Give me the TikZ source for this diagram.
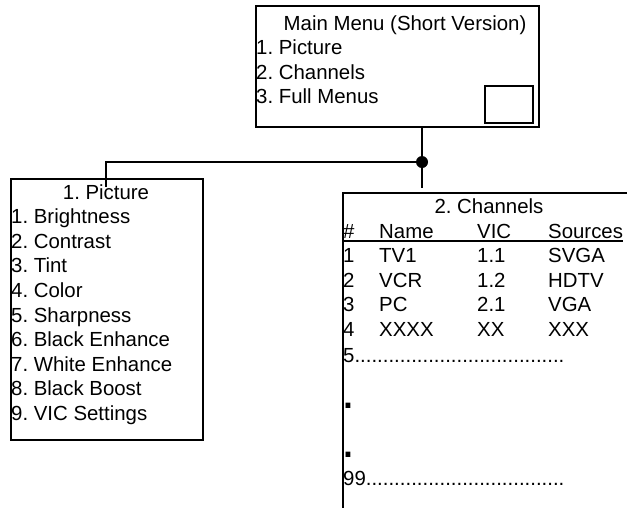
\documentclass[tikz,border=0pt]{standalone}
\usepackage{fontspec}
\setmainfont{Liberation Sans}
\frenchspacing
\begin{document}
\begin{tikzpicture}[x=1pt, y=-1pt,
    menubox/.style={draw=black, line width=1.8pt, rectangle, anchor=north west, inner sep=0pt},
    menutext/.style={anchor=base west, inner sep=0pt, font=\fontsize{20.4}{24.6}\selectfont},
    menutitle/.style={anchor=base, inner sep=0pt, font=\fontsize{20.4}{24.6}\selectfont},
    bigdot/.style={anchor=base west, inner sep=0pt, font=\fontsize{50}{50}\selectfont},
    link/.style={line width=1.8pt}]
    \useasboundingbox (0,0) rectangle (627,507);
    \clip (0,0) rectangle (627,507);

    % Main menu box with its small slot
    \node[menubox, minimum width=283pt, minimum height=121pt] (mainmenu) at (255,5) {};
    \node[menutitle] (maintitle) at (405,30) {Main Menu (Short Version)};
    \foreach \entry [count=\i] in {1. Picture, 2. Channels, 3. Full Menus}
        \node[menutext] (main-\i) at (256, 30+24.5*\i) {\entry};
    \node[menubox, minimum width=48pt, minimum height=37pt] (mainslot) at (484,85) {};

    % Picture sub menu
    \node[menubox, minimum width=192pt, minimum height=261pt] (picture) at (10,178) {};
    \node[menutitle] (picturetitle) at (106,199) {1. Picture};
    \foreach \entry [count=\i] in {1. Brightness, 2. Contrast, 3. Tint, 4. Color, 5. Sharpness,
        6. Black Enhance, 7. White Enhance, 8. Black Boost, 9. VIC Settings}
        \node[menutext] (picture-\i) at (11, 199+24.6*\i) {\entry};

    % Channels sub menu (runs off the page)
    \node[menubox, minimum width=320pt, minimum height=340pt] (channels) at (342,192) {};
    \node[menutitle] (channelstitle) at (489,213) {2. Channels};
    \node[menutext] (head-num) at (343,238) {\#};
    \node[menutext] (head-name) at (379,238) {Name};
    \node[menutext] (head-vic) at (477,238) {VIC};
    \node[menutext] (head-src) at (548,238) {Sources};
    \draw[link] ([yshift=-3pt]head-num.base west) -- ([yshift=-3pt]head-src.base east);
    \foreach \num/\name/\vic/\src [count=\i] in {1/TV1/1.1/SVGA, 2/VCR/1.2/HDTV, 3/PC/2.1/VGA, 4/XXXX/XX/XXX} {
        \node[menutext] (row\i-num) at (343, 238+24.6*\i) {\num};
        \node[menutext] (row\i-name) at (379, 238+24.6*\i) {\name};
        \node[menutext] (row\i-vic) at (477, 238+24.6*\i) {\vic};
        \node[menutext] (row\i-src) at (548, 238+24.6*\i) {\src};
    }
    \node[menutext] (row5) at (343,362) {5.....................................};
    \node[bigdot] (gap1) at (341.5,408) {.};
    \node[bigdot] (gap2) at (341.5,457) {.};
    \node[menutext] (row99) at (343,485) {99...................................};

    % Connectors
    \coordinate (junction) at (422,162);
    \coordinate (chanstub) at (422,188);
    \coordinate (picstub) at (106,187);
    \draw[link] (mainmenu.south -| junction) -- (junction) -- (chanstub);
    \draw[link] (junction) -| (picstub);
    \fill (junction) circle (6pt);
\end{tikzpicture}
\end{document}
